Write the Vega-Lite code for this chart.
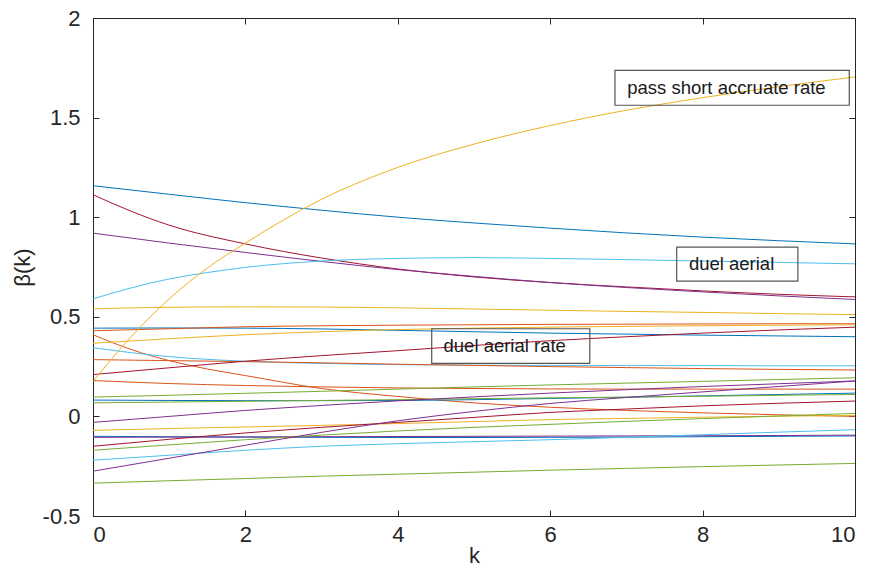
{
  "$schema": "https://vega.github.io/schema/vega-lite/v6.json",
  "width": 762,
  "height": 498,
  "autosize": {"type": "none"},
  "padding": {"left": 93, "top": 18, "right": 16, "bottom": 53},
  "background": "white",
  "config": {
    "view": {"stroke": "#262626", "strokeWidth": 1},
    "font": "Liberation Sans",
    "axis": {"domainColor": "#262626", "tickColor": "#262626", "labelColor": "#262626", "titleColor": "#262626", "grid": false, "labelFont": "Liberation Sans", "titleFont": "Liberation Sans", "titleFontWeight": "normal"}
  },
  "datasets": {
    "beta": [
      {"s":"s1","k":0,"b":1.158},{"s":"s1","k":1,"b":1.115},{"s":"s1","k":2,"b":1.073},{"s":"s1","k":3,"b":1.035},{"s":"s1","k":4,"b":1.0},{"s":"s1","k":5,"b":0.971},{"s":"s1","k":6,"b":0.945},{"s":"s1","k":7,"b":0.921},{"s":"s1","k":8,"b":0.9},{"s":"s1","k":9,"b":0.882},{"s":"s1","k":10,"b":0.866},
      {"s":"s2","k":0,"b":1.113},{"s":"s2","k":0.5,"b":1.03},{"s":"s2","k":1,"b":0.96},{"s":"s2","k":2,"b":0.866},{"s":"s2","k":3,"b":0.795},{"s":"s2","k":4,"b":0.74},{"s":"s2","k":5,"b":0.7},{"s":"s2","k":6,"b":0.672},{"s":"s2","k":7,"b":0.65},{"s":"s2","k":8,"b":0.63},{"s":"s2","k":9,"b":0.613},{"s":"s2","k":10,"b":0.6},
      {"s":"s3","k":0,"b":0.92},{"s":"s3","k":1,"b":0.87},{"s":"s3","k":2,"b":0.823},{"s":"s3","k":3,"b":0.778},{"s":"s3","k":4,"b":0.737},{"s":"s3","k":5,"b":0.703},{"s":"s3","k":6,"b":0.672},{"s":"s3","k":7,"b":0.647},{"s":"s3","k":8,"b":0.625},{"s":"s3","k":9,"b":0.605},{"s":"s3","k":10,"b":0.587},
      {"s":"s4","k":0,"b":0.59},{"s":"s4","k":0.5,"b":0.645},{"s":"s4","k":1,"b":0.69},{"s":"s4","k":1.5,"b":0.722},{"s":"s4","k":2,"b":0.748},{"s":"s4","k":3,"b":0.78},{"s":"s4","k":4,"b":0.793},{"s":"s4","k":5,"b":0.797},{"s":"s4","k":6,"b":0.793},{"s":"s4","k":7,"b":0.787},{"s":"s4","k":8,"b":0.78},{"s":"s4","k":9,"b":0.773},{"s":"s4","k":10,"b":0.766},
      {"s":"s5","k":0,"b":0.54},{"s":"s5","k":1,"b":0.548},{"s":"s5","k":2,"b":0.55},{"s":"s5","k":3,"b":0.549},{"s":"s5","k":4,"b":0.545},{"s":"s5","k":5,"b":0.539},{"s":"s5","k":6,"b":0.533},{"s":"s5","k":7,"b":0.527},{"s":"s5","k":8,"b":0.522},{"s":"s5","k":9,"b":0.516},{"s":"s5","k":10,"b":0.511},
      {"s":"s6","k":0,"b":0.443},{"s":"s6","k":1,"b":0.444},{"s":"s6","k":2,"b":0.443},{"s":"s6","k":3,"b":0.439},{"s":"s6","k":4,"b":0.432},{"s":"s6","k":5,"b":0.425},{"s":"s6","k":6,"b":0.418},{"s":"s6","k":7,"b":0.413},{"s":"s6","k":8,"b":0.408},{"s":"s6","k":9,"b":0.404},{"s":"s6","k":10,"b":0.4},
      {"s":"s7","k":0,"b":0.43},{"s":"s7","k":1,"b":0.44},{"s":"s7","k":2,"b":0.45},{"s":"s7","k":3,"b":0.455},{"s":"s7","k":4,"b":0.458},{"s":"s7","k":5,"b":0.46},{"s":"s7","k":6,"b":0.462},{"s":"s7","k":7,"b":0.463},{"s":"s7","k":8,"b":0.464},{"s":"s7","k":9,"b":0.465},{"s":"s7","k":10,"b":0.465},
      {"s":"s8","k":0,"b":0.41},{"s":"s8","k":0.5,"b":0.336},{"s":"s8","k":1,"b":0.28},{"s":"s8","k":1.5,"b":0.238},{"s":"s8","k":2,"b":0.205},{"s":"s8","k":3,"b":0.14},{"s":"s8","k":4,"b":0.1},{"s":"s8","k":5,"b":0.068},{"s":"s8","k":6,"b":0.046},{"s":"s8","k":7,"b":0.03},{"s":"s8","k":8,"b":0.018},{"s":"s8","k":9,"b":0.008},{"s":"s8","k":10,"b":0.0},
      {"s":"s9","k":0,"b":0.367},{"s":"s9","k":1,"b":0.39},{"s":"s9","k":2,"b":0.41},{"s":"s9","k":3,"b":0.425},{"s":"s9","k":4,"b":0.436},{"s":"s9","k":5,"b":0.443},{"s":"s9","k":6,"b":0.448},{"s":"s9","k":7,"b":0.452},{"s":"s9","k":8,"b":0.455},{"s":"s9","k":9,"b":0.458},{"s":"s9","k":10,"b":0.46},
      {"s":"s10","k":0,"b":0.345},{"s":"s10","k":0.5,"b":0.32},{"s":"s10","k":1,"b":0.3},{"s":"s10","k":2,"b":0.277},{"s":"s10","k":3,"b":0.266},{"s":"s10","k":4,"b":0.26},{"s":"s10","k":5,"b":0.257},{"s":"s10","k":6,"b":0.256},{"s":"s10","k":7,"b":0.255},{"s":"s10","k":8,"b":0.255},{"s":"s10","k":9,"b":0.254},{"s":"s10","k":10,"b":0.254},
      {"s":"s11","k":0,"b":0.285},{"s":"s11","k":1,"b":0.28},{"s":"s11","k":2,"b":0.275},{"s":"s11","k":3,"b":0.269},{"s":"s11","k":4,"b":0.262},{"s":"s11","k":5,"b":0.256},{"s":"s11","k":6,"b":0.25},{"s":"s11","k":7,"b":0.245},{"s":"s11","k":8,"b":0.24},{"s":"s11","k":9,"b":0.236},{"s":"s11","k":10,"b":0.233},
      {"s":"s12","k":0,"b":0.21},{"s":"s12","k":1,"b":0.244},{"s":"s12","k":2,"b":0.277},{"s":"s12","k":3,"b":0.305},{"s":"s12","k":4,"b":0.33},{"s":"s12","k":5,"b":0.356},{"s":"s12","k":6,"b":0.38},{"s":"s12","k":7,"b":0.4},{"s":"s12","k":8,"b":0.418},{"s":"s12","k":9,"b":0.434},{"s":"s12","k":10,"b":0.448},
      {"s":"s13","k":0,"b":0.175},{"s":"s13","k":0.5,"b":0.4},{"s":"s13","k":1,"b":0.59},{"s":"s13","k":1.5,"b":0.745},{"s":"s13","k":2,"b":0.87},{"s":"s13","k":3,"b":1.09},{"s":"s13","k":4,"b":1.25},{"s":"s13","k":5,"b":1.367},{"s":"s13","k":6,"b":1.46},{"s":"s13","k":7,"b":1.537},{"s":"s13","k":8,"b":1.6},{"s":"s13","k":9,"b":1.655},{"s":"s13","k":10,"b":1.704},
      {"s":"s14","k":0,"b":0.18},{"s":"s14","k":1,"b":0.165},{"s":"s14","k":2,"b":0.155},{"s":"s14","k":3,"b":0.148},{"s":"s14","k":4,"b":0.143},{"s":"s14","k":5,"b":0.14},{"s":"s14","k":6,"b":0.138},{"s":"s14","k":7,"b":0.137},{"s":"s14","k":8,"b":0.137},{"s":"s14","k":9,"b":0.137},{"s":"s14","k":10,"b":0.137},
      {"s":"s15","k":0,"b":0.097},{"s":"s15","k":1,"b":0.106},{"s":"s15","k":2,"b":0.116},{"s":"s15","k":3,"b":0.126},{"s":"s15","k":4,"b":0.137},{"s":"s15","k":5,"b":0.148},{"s":"s15","k":6,"b":0.158},{"s":"s15","k":7,"b":0.167},{"s":"s15","k":8,"b":0.176},{"s":"s15","k":9,"b":0.185},{"s":"s15","k":10,"b":0.194},
      {"s":"s16","k":0,"b":0.082},{"s":"s16","k":1,"b":0.08},{"s":"s16","k":2,"b":0.079},{"s":"s16","k":3,"b":0.079},{"s":"s16","k":4,"b":0.08},{"s":"s16","k":5,"b":0.084},{"s":"s16","k":6,"b":0.09},{"s":"s16","k":7,"b":0.096},{"s":"s16","k":8,"b":0.103},{"s":"s16","k":9,"b":0.11},{"s":"s16","k":10,"b":0.117},
      {"s":"s17","k":0,"b":0.068},{"s":"s17","k":1,"b":0.072},{"s":"s17","k":2,"b":0.076},{"s":"s17","k":3,"b":0.08},{"s":"s17","k":4,"b":0.084},{"s":"s17","k":5,"b":0.089},{"s":"s17","k":6,"b":0.093},{"s":"s17","k":7,"b":0.097},{"s":"s17","k":8,"b":0.101},{"s":"s17","k":9,"b":0.106},{"s":"s17","k":10,"b":0.11},
      {"s":"s18","k":0,"b":-0.03},{"s":"s18","k":1,"b":0.0},{"s":"s18","k":2,"b":0.03},{"s":"s18","k":3,"b":0.055},{"s":"s18","k":4,"b":0.078},{"s":"s18","k":5,"b":0.098},{"s":"s18","k":6,"b":0.117},{"s":"s18","k":7,"b":0.134},{"s":"s18","k":8,"b":0.15},{"s":"s18","k":9,"b":0.164},{"s":"s18","k":10,"b":0.178},
      {"s":"s19","k":0,"b":-0.07},{"s":"s19","k":1,"b":-0.061},{"s":"s19","k":2,"b":-0.053},{"s":"s19","k":3,"b":-0.045},{"s":"s19","k":4,"b":-0.036},{"s":"s19","k":5,"b":-0.026},{"s":"s19","k":6,"b":-0.016},{"s":"s19","k":7,"b":-0.01},{"s":"s19","k":8,"b":-0.004},{"s":"s19","k":9,"b":0.001},{"s":"s19","k":10,"b":0.005},
      {"s":"s20","k":0,"b":-0.1},{"s":"s20","k":1,"b":-0.102},{"s":"s20","k":2,"b":-0.104},{"s":"s20","k":3,"b":-0.105},{"s":"s20","k":4,"b":-0.106},{"s":"s20","k":5,"b":-0.106},{"s":"s20","k":6,"b":-0.105},{"s":"s20","k":7,"b":-0.104},{"s":"s20","k":8,"b":-0.102},{"s":"s20","k":9,"b":-0.1},{"s":"s20","k":10,"b":-0.098},
      {"s":"s21","k":0,"b":-0.105},{"s":"s21","k":1,"b":-0.104},{"s":"s21","k":2,"b":-0.103},{"s":"s21","k":3,"b":-0.102},{"s":"s21","k":4,"b":-0.101},{"s":"s21","k":5,"b":-0.1},{"s":"s21","k":6,"b":-0.099},{"s":"s21","k":7,"b":-0.098},{"s":"s21","k":8,"b":-0.097},{"s":"s21","k":9,"b":-0.096},{"s":"s21","k":10,"b":-0.094},
      {"s":"s22","k":0,"b":-0.15},{"s":"s22","k":1,"b":-0.115},{"s":"s22","k":2,"b":-0.083},{"s":"s22","k":3,"b":-0.055},{"s":"s22","k":4,"b":-0.03},{"s":"s22","k":5,"b":-0.005},{"s":"s22","k":6,"b":0.02},{"s":"s22","k":7,"b":0.037},{"s":"s22","k":8,"b":0.053},{"s":"s22","k":9,"b":0.066},{"s":"s22","k":10,"b":0.077},
      {"s":"s23","k":0,"b":-0.17},{"s":"s23","k":1,"b":-0.143},{"s":"s23","k":2,"b":-0.117},{"s":"s23","k":3,"b":-0.094},{"s":"s23","k":4,"b":-0.073},{"s":"s23","k":5,"b":-0.055},{"s":"s23","k":6,"b":-0.04},{"s":"s23","k":7,"b":-0.025},{"s":"s23","k":8,"b":-0.011},{"s":"s23","k":9,"b":0.002},{"s":"s23","k":10,"b":0.015},
      {"s":"s24","k":0,"b":-0.22},{"s":"s24","k":1,"b":-0.195},{"s":"s24","k":2,"b":-0.17},{"s":"s24","k":3,"b":-0.15},{"s":"s24","k":4,"b":-0.137},{"s":"s24","k":5,"b":-0.127},{"s":"s24","k":6,"b":-0.117},{"s":"s24","k":7,"b":-0.105},{"s":"s24","k":8,"b":-0.092},{"s":"s24","k":9,"b":-0.079},{"s":"s24","k":10,"b":-0.067},
      {"s":"s25","k":0,"b":-0.275},{"s":"s25","k":1,"b":-0.21},{"s":"s25","k":2,"b":-0.145},{"s":"s25","k":3,"b":-0.08},{"s":"s25","k":4,"b":-0.022},{"s":"s25","k":5,"b":0.025},{"s":"s25","k":6,"b":0.065},{"s":"s25","k":7,"b":0.095},{"s":"s25","k":8,"b":0.123},{"s":"s25","k":9,"b":0.15},{"s":"s25","k":10,"b":0.178},
      {"s":"s26","k":0,"b":-0.335},{"s":"s26","k":1,"b":-0.323},{"s":"s26","k":2,"b":-0.312},{"s":"s26","k":3,"b":-0.3},{"s":"s26","k":4,"b":-0.29},{"s":"s26","k":5,"b":-0.28},{"s":"s26","k":6,"b":-0.27},{"s":"s26","k":7,"b":-0.261},{"s":"s26","k":8,"b":-0.252},{"s":"s26","k":9,"b":-0.244},{"s":"s26","k":10,"b":-0.236}
    ],
    "notes": [
      {"label":"pass short accruate rate","x1":6.85,"x2":9.925,"y1":1.562,"y2":1.737,"tx":7.01,"ty":1.649},
      {"label":"duel aerial","x1":7.66,"x2":9.25,"y1":0.679,"y2":0.85,"tx":7.82,"ty":0.764},
      {"label":"duel aerial rate","x1":4.445,"x2":6.52,"y1":0.266,"y2":0.44,"tx":4.6,"ty":0.353}
    ]
  },
  "layer": [
    {
      "data": {"name": "beta"},
      "mark": {"type": "line", "strokeWidth": 1, "interpolate": "monotone", "clip": true},
      "encoding": {
        "x": {"field": "k", "type": "quantitative", "scale": {"domain": [0, 10], "nice": false, "zero": false},
          "axis": {"title": "k", "orient": "bottom", "values": [0,2,4,6,8,10], "labelExpr": "'' + datum.value", "tickSize": -6, "labelPadding": 14, "labelFontSize": 22, "titleFontSize": 22, "titlePadding": 0, "domain": true}},
        "y": {"field": "b", "type": "quantitative", "scale": {"domain": [-0.5, 2], "nice": false, "zero": false},
          "axis": {"title": "β(k)", "orient": "left", "values": [-0.5,0,0.5,1,1.5,2], "labelExpr": "'' + datum.value", "tickSize": -6, "labelPadding": 19, "labelFontSize": 22, "titleFontSize": 22, "titlePadding": 8, "domain": true, "labelFlush": false}},
        "color": {"field": "s", "type": "nominal", "legend": null,
          "scale": {"domain": ["s1","s2","s3","s4","s5","s6","s7","s8","s9","s10","s11","s12","s13","s14","s15","s16","s17","s18","s19","s20","s21","s22","s23","s24","s25","s26"],
            "range": ["#0072BD","#A2142F","#7E2F8E","#4DBEEE","#EDB120","#0072BD","#D95319","#D95319","#EDB120","#4DBEEE","#D95319","#A2142F","#EDB120","#D95319","#77AC30","#0072BD","#77AC30","#7E2F8E","#EDB120","#0072BD","#7E2F8E","#A2142F","#77AC30","#4DBEEE","#7E2F8E","#77AC30"]}}
      }
    },
    {
      "data": {"name": "notes"},
      "mark": {"type": "rect", "fill": "white", "fillOpacity": 0, "stroke": "#555555", "strokeWidth": 1.2},
      "encoding": {
        "x": {"field": "x1", "type": "quantitative", "axis": {"orient": "top", "labels": false, "title": null, "values": [0,2,4,6,8,10], "tickSize": -6}},
        "x2": {"field": "x2"},
        "y": {"field": "y1", "type": "quantitative", "axis": {"orient": "right", "labels": false, "title": null, "values": [-0.5,0,0.5,1,1.5,2], "tickSize": -6}},
        "y2": {"field": "y2"}
      }
    },
    {
      "data": {"name": "notes"},
      "mark": {"type": "text", "align": "left", "baseline": "middle", "fontSize": 18.5, "font": "Liberation Sans", "color": "#1a1a1a"},
      "encoding": {
        "x": {"field": "tx", "type": "quantitative", "axis": null},
        "y": {"field": "ty", "type": "quantitative", "axis": null},
        "text": {"field": "label"}
      }
    }
  ],
  "resolve": {"axis": {"x": "independent", "y": "independent"}}
}
